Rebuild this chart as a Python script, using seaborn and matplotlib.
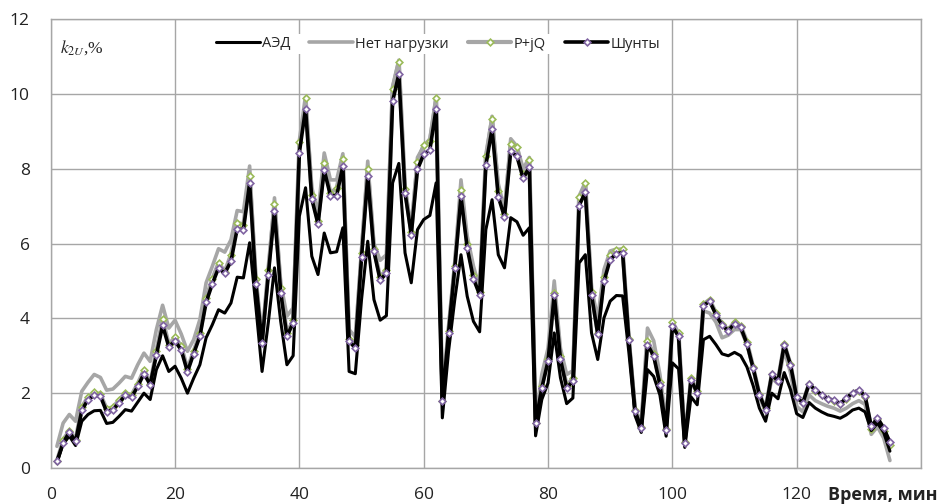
import numpy as np
import pandas as pd
import matplotlib
matplotlib.use("Agg")
import matplotlib.pyplot as plt
import seaborn as sns

# data (minutes 1..135)
minutes = list(range(1, 136))

shunts = [
    0.18, 0.67, 0.96, 0.71, 1.54, 1.83, 1.94, 1.92, 1.50, 1.56,
    1.74, 1.94, 1.89, 2.18, 2.52, 2.23, 3.02, 3.81, 3.24, 3.40,
    3.15, 2.57, 3.06, 3.52, 4.43, 4.92, 5.35, 5.20, 5.53, 6.39,
    6.37, 7.61, 4.93, 3.34, 5.16, 6.87, 4.69, 3.52, 3.88, 8.43,
    9.60, 7.19, 6.52, 7.96, 7.28, 7.28, 8.07, 3.39, 3.21, 5.63,
    7.80, 5.79, 5.02, 5.21, 9.80, 10.52, 7.35, 6.24, 7.98, 8.38,
    8.51, 9.60, 1.78, 3.61, 5.35, 7.26, 5.88, 5.06, 4.63, 8.09,
    9.06, 7.25, 6.71, 8.47, 8.33, 7.74, 8.04, 1.20, 2.14, 2.85,
    4.63, 2.91, 2.14, 2.32, 7.01, 7.37, 4.63, 3.58, 4.99, 5.57,
    5.73, 5.75, 3.43, 1.52, 1.07, 3.30, 2.99, 2.23, 1.02, 3.79,
    3.52, 0.67, 2.36, 2.01, 4.34, 4.46, 4.10, 3.81, 3.67, 3.86,
    3.76, 3.32, 2.67, 1.96, 1.56, 2.50, 2.32, 3.30, 2.76, 1.89,
    1.74, 2.25, 2.08, 1.96, 1.85, 1.81, 1.72, 1.87, 2.01, 2.08,
    1.93, 1.11, 1.34, 1.07, 0.69,
]

pjq = [
    0.18, 0.75, 1.00, 0.75, 1.62, 1.90, 2.02, 1.97, 1.58, 1.62,
    1.82, 2.00, 1.95, 2.25, 2.62, 2.25, 3.12, 3.98, 3.30, 3.50,
    3.25, 2.65, 3.12, 3.60, 4.55, 5.05, 5.48, 5.25, 5.70, 6.56,
    6.50, 7.80, 5.05, 3.40, 5.30, 7.06, 4.80, 3.60, 3.95, 8.70,
    9.90, 7.30, 6.60, 8.15, 7.35, 7.48, 8.26, 3.45, 3.30, 5.75,
    7.98, 5.85, 5.10, 5.30, 10.14, 10.85, 7.45, 6.30, 8.18, 8.63,
    8.73, 9.89, 1.80, 3.65, 5.40, 7.42, 6.00, 5.15, 4.70, 8.33,
    9.34, 7.40, 6.80, 8.67, 8.57, 7.85, 8.24, 1.20, 2.20, 2.90,
    4.68, 3.00, 2.20, 2.40, 7.25, 7.62, 4.70, 3.60, 5.10, 5.70,
    5.83, 5.85, 3.45, 1.55, 1.10, 3.40, 3.05, 2.30, 1.05, 3.90,
    3.60, 0.70, 2.40, 2.05, 4.38, 4.50, 4.15, 3.85, 3.70, 3.90,
    3.80, 3.38, 2.70, 1.98, 1.60, 2.50, 2.35, 3.32, 2.78, 1.90,
    1.75, 2.25, 2.07, 1.95, 1.84, 1.80, 1.70, 1.85, 2.00, 2.06,
    1.90, 1.05, 1.30, 1.00, 0.62,
]

no_load = [
    0.58, 1.20, 1.43, 1.25, 2.05, 2.29, 2.50, 2.42, 2.08, 2.11,
    2.27, 2.45, 2.40, 2.76, 3.07, 2.85, 3.70, 4.35, 3.74, 3.95,
    3.58, 3.12, 3.43, 3.97, 4.95, 5.39, 5.86, 5.77, 6.10, 6.88,
    6.85, 8.07, 5.04, 3.48, 5.26, 7.22, 4.95, 4.06, 4.28, 8.60,
    9.80, 7.50, 6.80, 8.42, 7.70, 7.70, 8.40, 3.70, 3.50, 5.80,
    8.20, 6.00, 5.55, 5.70, 10.20, 10.90, 7.50, 6.40, 8.30, 8.60,
    8.80, 9.90, 1.90, 3.80, 5.50, 7.70, 6.20, 5.40, 4.80, 8.30,
    9.40, 7.60, 6.90, 8.80, 8.60, 8.00, 8.30, 1.30, 2.50, 3.20,
    5.00, 3.20, 2.50, 2.60, 7.20, 7.60, 4.80, 4.00, 5.30, 5.80,
    5.85, 5.80, 3.50, 1.60, 1.20, 3.74, 3.40, 2.50, 1.20, 3.85,
    3.50, 0.75, 2.30, 2.00, 4.20, 4.14, 3.90, 3.48, 3.55, 3.70,
    3.70, 3.30, 2.65, 1.90, 1.50, 2.40, 2.25, 3.15, 2.55, 1.65,
    1.50, 1.95, 1.80, 1.72, 1.65, 1.60, 1.52, 1.60, 1.72, 1.80,
    1.70, 0.90, 1.10, 0.80, 0.20,
]

aed = [
    0.13, 0.65, 0.85, 0.60, 1.25, 1.43, 1.53, 1.54, 1.19, 1.22,
    1.38, 1.56, 1.52, 1.76, 2.00, 1.83, 2.63, 3.00, 2.58, 2.72,
    2.40, 2.00, 2.40, 2.76, 3.48, 3.83, 4.23, 4.14, 4.41, 5.10,
    5.08, 6.02, 4.32, 2.58, 3.88, 5.35, 3.92, 2.76, 3.00, 6.73,
    7.49, 5.66, 5.17, 6.28, 5.75, 5.78, 6.42, 2.58, 2.52, 4.50,
    6.06, 4.50, 3.95, 4.07, 7.62, 8.14, 5.75, 4.95, 6.37, 6.64,
    6.75, 7.62, 1.34, 3.12, 4.50, 5.70, 4.59, 3.92, 3.64, 6.37,
    7.17, 5.70, 5.35, 6.69, 6.58, 6.22, 6.42, 0.86, 1.83, 2.27,
    3.61, 2.41, 1.72, 1.87, 5.48, 5.70, 3.61, 2.90, 4.01, 4.46,
    4.61, 4.60, 3.10, 1.40, 0.95, 2.63, 2.45, 1.95, 0.85, 2.81,
    2.65, 0.55, 1.90, 1.69, 3.43, 3.52, 3.30, 3.05, 3.00, 3.09,
    3.00, 2.70, 2.20, 1.60, 1.25, 2.00, 1.85, 2.55, 2.10, 1.45,
    1.35, 1.75, 1.60, 1.50, 1.42, 1.38, 1.33, 1.42, 1.55, 1.60,
    1.50, 1.00, 1.20, 0.95, 0.45,
]

x_ticks = [0, 20, 40, 60, 80, 100, 120, 140]
x_tick_labels = ["0", "20", "40", "60", "80", "100", "120", ""]
y_ticks = [0, 2, 4, 6, 8, 10, 12]

sns.set_style("whitegrid")
plt.rcParams['font.family'] = ['Open Sans', 'DejaVu Sans']
plt.rcParams['mathtext.fontset'] = 'stix'

grid_col = "#a6a6a6"
fig = plt.figure(figsize=(9.41, 5.04), dpi=100)
ax = fig.add_axes([50.7 / 941, 36 / 504, 870.3 / 941, 449 / 504])

sns.lineplot(x=minutes, y=no_load, ax=ax, color="#a6a6a6", lw=2.6,
             label="Нет нагрузки")
sns.lineplot(x=minutes, y=pjq, ax=ax, color="#a6a6a6", lw=3.0,
             marker="D", markersize=3.4, markerfacecolor="white",
             markeredgecolor="#9bbb59", markeredgewidth=1.2, label="P+jQ")
sns.lineplot(x=minutes, y=aed, ax=ax, color="black", lw=2.2, label="АЭД")
sns.lineplot(x=minutes, y=shunts, ax=ax, color="black", lw=2.6,
             marker="D", markersize=3.4, markerfacecolor="white",
             markeredgecolor="#8064a2", markeredgewidth=1.2, label="Шунты")

ax.set_xlim(0, 140)
ax.set_ylim(0, 12)
ax.set_xticks(x_ticks)
ax.set_xticklabels(x_tick_labels)
ax.set_yticks(y_ticks)
ax.grid(True, color=grid_col, lw=1.0)
for s in ax.spines.values():
    s.set_color(grid_col)
    s.set_linewidth(1.0)
ax.tick_params(axis="both", length=5, color=grid_col, labelsize=12.5,
               labelcolor="#222222")
ax.tick_params(axis="x", pad=9)
ax.tick_params(axis="y", pad=10)
ax.set_xlabel("")
ax.set_ylabel("")

# legend order as in reference
handles, labels = ax.get_legend_handles_labels()
order = [labels.index(n) for n in ["АЭД", "Нет нагрузки", "P+jQ", "Шунты"]]
leg = ax.legend([handles[i] for i in order], [labels[i] for i in order],
                loc="center", bbox_to_anchor=(438 / 941, 1 - 44 / 504),
                bbox_transform=fig.transFigure, ncol=4, frameon=True,
                facecolor="white", edgecolor="none", framealpha=1,
                fontsize=10.5, handlelength=3.0, handletextpad=0.15,
                columnspacing=1.3, numpoints=1, borderpad=0.2)

ax.text(0.011, 0.937, r"$k_{2U}$,%", transform=ax.transAxes,
        fontsize=12.5, family="Liberation Serif", va="center", ha="left")
fig.text(938 / 941, 1 - 495 / 504, "Время, мин", fontsize=13,
         fontweight="bold", ha="right", va="center", color="#222222")

fig.savefig("out.png", dpi=100)
